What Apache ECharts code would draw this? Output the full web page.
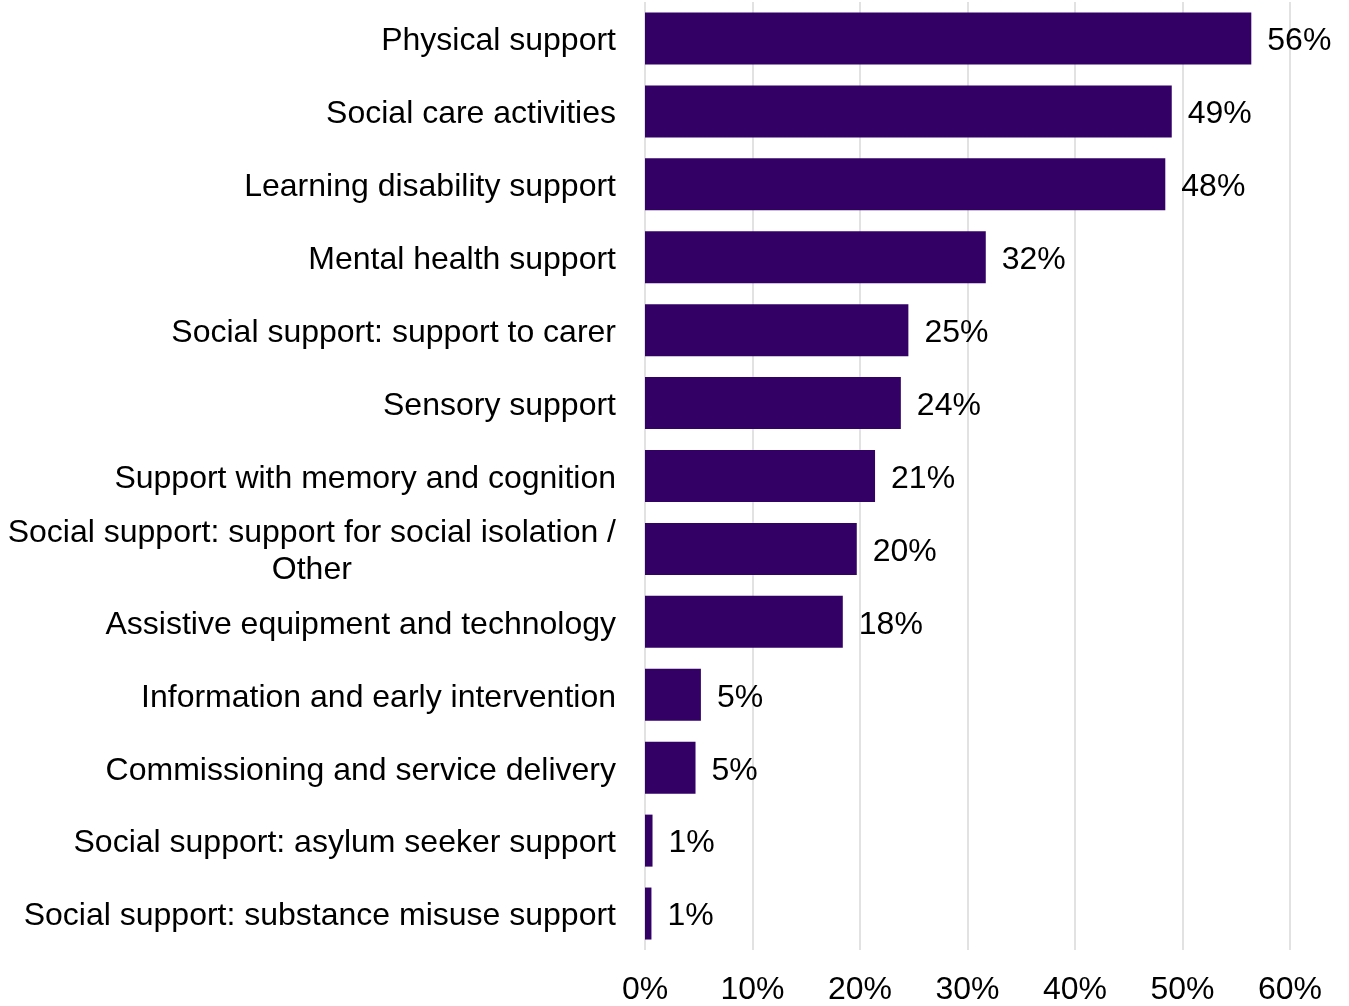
<!DOCTYPE html>
<html>
<head>
<meta charset="utf-8">
<script src="https://cdn.jsdelivr.net/npm/echarts@6/dist/echarts.min.js"></script>
<style>
  html, body { margin: 0; padding: 0; background: #ffffff; }
  #chart { width: 1349px; height: 1006px; }
</style>
</head>
<body>
<div id="chart"></div>
<script>
// Support categories, top to bottom
const categories = [
  'Physical support',
  'Social care activities',
  'Learning disability support',
  'Mental health support',
  'Social support: support to carer',
  'Sensory support',
  'Support with memory and cognition',
  'Social support: support for social isolation /\nOther',
  'Assistive equipment and technology',
  'Information and early intervention',
  'Commissioning and service delivery',
  'Social support: asylum seeker support',
  'Social support: substance misuse support'
];

// Share of respondents (%)
const shares = [56.4, 49.0, 48.4, 31.7, 24.5, 23.8, 21.4, 19.7, 18.4, 5.2, 4.7, 0.7, 0.6];

// Percentage axis ticks
const axisMin = 0;
const axisMax = 60;
const axisStep = 10;

const FONT = '"Liberation Sans", Arial, sans-serif';
const FS = 32;
const chart = echarts.init(document.getElementById('chart'), null, { renderer: 'canvas' });

chart.setOption({
  animation: false,
  backgroundColor: '#ffffff',
  grid: { left: 645, right: 59, top: 2, bottom: 55 },
  xAxis: {
    type: 'value',
    min: axisMin,
    max: axisMax,
    interval: axisStep,
    axisLine: { show: false },
    axisTick: { show: false },
    splitLine: { show: true, lineStyle: { color: '#d9d9d9', width: 1.5 } },
    axisLabel: {
      formatter: v => v + '%',
      color: '#000000',
      fontFamily: FONT,
      fontSize: FS,
      margin: 24
    }
  },
  yAxis: {
    type: 'category',
    data: categories,
    inverse: true,
    axisLine: { show: false },
    axisTick: { show: false },
    axisLabel: {
      color: '#000000',
      fontFamily: FONT,
      fontSize: FS,
      margin: 29,
      lineHeight: 37,
      padding: [6, 0, 0, 0],
      formatter: v => v.indexOf('\n') >= 0
        ? v.split('\n').map(s => '{c|' + s + '}').join('\n')
        : v,
      rich: {
        c: { align: 'center', fontFamily: FONT, fontSize: FS, lineHeight: 37, color: '#000000' }
      }
    }
  },
  series: [{
    type: 'bar',
    data: shares,
    barWidth: 52,
    itemStyle: { color: '#330066' },
    label: {
      show: true,
      position: 'right',
      distance: 16,
      offset: [0, 3],
      color: '#000000',
      fontFamily: FONT,
      fontSize: FS,
      formatter: p => Math.round(p.value) + '%'
    }
  }]
});
</script>
</body>
</html>
